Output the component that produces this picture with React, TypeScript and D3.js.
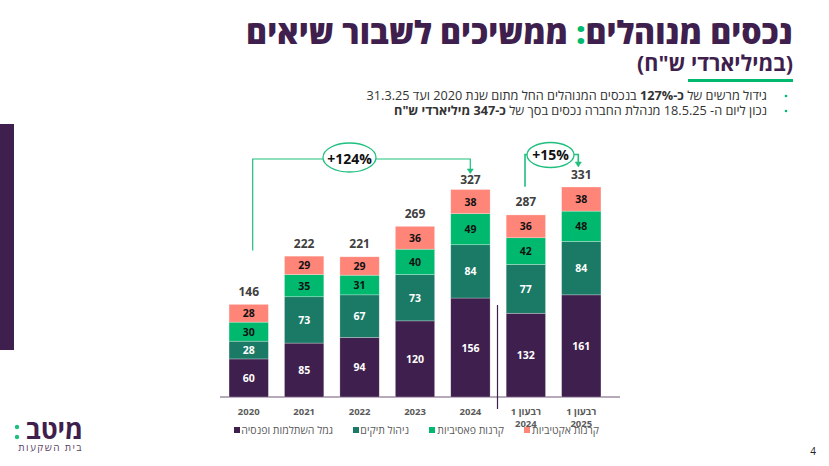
import React from "react";
import * as d3 from "d3";

const categories = ["2020", "2021", "2022", "2023", "2024", "Q1_2024", "Q1_2025"];
const categoryLines = [["2020"], ["2021"], ["2022"], ["2023"], ["2024"], ["רבעון 1", "2024"], ["רבעון 1", "2025"]];
const provident = [60, 85, 94, 120, 156, 132, 161];
const portfolio = [28, 73, 67, 73, 84, 77, 84];
const passive = [30, 35, 31, 40, 49, 42, 48];
const active = [28, 29, 29, 36, 38, 36, 38];
const totals = [146, 222, 221, 269, 327, 287, 331];
const seriesNames = ["גמל השתלמות ופנסיה", "ניהול תיקים", "קרנות פאסיביות", "קרנות אקטיביות"];
const seriesColors = ["#3f1f4d", "#1a7a66", "#00b96f", "#ff8578"];
const labelColors = ["#ffffff", "#ffffff", "#111111", "#111111"];
const seriesValues = [provident, portfolio, passive, active];

const W = 829, H = 466;
const font = "'Open Sans','Noto Sans','DejaVu Sans',sans-serif";
const purple = "#3f1f4d";
const green = "#1fbf7f";

const x = d3.scaleBand<string>().domain(categories).range([221, 609]).paddingInner(0.29).paddingOuter(0.145);
const y = d3.scaleLinear().domain([0, 331]).range([397, 187]);

const rows = categories.map((c, i) => {
  const r: any = { c };
  seriesNames.forEach((s, k) => (r[s] = seriesValues[k][i]));
  return r;
});
const stacked = d3.stack<any>().keys(seriesNames)(rows);

const legendSwatch = [234, 353, 429, 524];
const legendTextRight = [333, 409, 504, 599];

export default function App() {
  const cx = (i: number) => x(categories[i])! + x.bandwidth() / 2;
  return (
    <svg width={W} height={H} style={{ position: "absolute", left: 0, top: 0, background: "#fff" }} fontFamily={font}>
      <rect x={0} y={124} width={14} height={226} fill={purple} />

      <text x={793} y={44} textAnchor="start" direction="rtl" fontSize={32} fontWeight={800} fill={purple}>
        נכסים מנוהלים<tspan fill="#00b96f">:</tspan> ממשיכים לשבור שיאים
      </text>
      <text x={793} y={71} textAnchor="start" direction="rtl" fontSize={21.5} fontWeight={700} fill={purple}>(במיליארדי ש"ח)</text>
      <rect x={688} y={79} width={105} height={3} fill="#00b96f" />

      <text x={767} y={100} textAnchor="start" direction="rtl" fontSize={12.7} fill="#333">
        <tspan>גידול מרשים של </tspan><tspan fontWeight={700}>כ-127%</tspan><tspan> בנכסים המנוהלים החל מתום שנת 2020 ועד 31.3.25</tspan>
      </text>
      <text x={767} y={115} textAnchor="start" direction="rtl" fontSize={12.7} fill="#333">
        <tspan>נכון ליום ה- 18.5.25 מנהלת החברה נכסים בסך של </tspan><tspan fontWeight={700}>כ-347 מיליארדי ש"ח</tspan>
      </text>
      <circle cx={786} cy={96} r={1.3} fill="#00b96f" />
      <circle cx={786} cy={111} r={1.3} fill="#00b96f" />

      {/* baseline */}
      <line x1={220} x2={620} y1={397} y2={397} stroke="#6d5577" strokeWidth={1} />
      <line x1={497.5} x2={497.5} y1={305} y2={409} stroke={purple} strokeWidth={1.2} />

      {/* stacks */}
      {stacked.map((layer, k) => (
        <g key={seriesNames[k]}>
          {layer.map((d, i) => (
            <g key={categories[i]}>
              <rect x={x(categories[i])} width={x.bandwidth()} y={y(d[1])} height={y(d[0]) - y(d[1])}
                fill={seriesColors[k]} stroke="#fff" strokeOpacity={0.45} strokeWidth={0.6} />
              <text x={cx(i)} y={(y(d[0]) + y(d[1])) / 2 + 4} textAnchor="middle" fontSize={10.5} fontWeight={700}
                fill={labelColors[k]}>{seriesValues[k][i]}</text>
            </g>
          ))}
        </g>
      ))}

      {/* totals */}
      {totals.map((t, i) => (
        <text key={i} x={cx(i)} y={y(t) - (i === 4 ? 5.5 : 8.5)} textAnchor="middle" fontSize={12} fontWeight={700} fill="#404040">{t}</text>
      ))}

      {/* category labels */}
      {categoryLines.map((lines, i) => (
        <text key={i} x={cx(i)} textAnchor="middle" fontSize={9.5} fontWeight={700} fill="#5a5a5a">
          {lines.map((l, j) => (
            <tspan key={j} x={cx(i)} y={414.5 + j * 12.5}>{l}</tspan>
          ))}
        </text>
      ))}

      {/* legend */}
      {seriesNames.map((s, k) => (
        <g key={s}>
          <rect x={legendSwatch[k]} y={427} width={6} height={6} fill={seriesColors[k]} />
          <text x={legendTextRight[k]} y={433.5} textAnchor="start" direction="rtl" fontSize={10.5} fill="#5a5a5a">{s}</text>
        </g>
      ))}

      {/* +124% connector */}
      <path d="M252.7 250.5 V159 H323 M376 159 H470.3 V170" fill="none" stroke={green} strokeWidth={1.2} />
      <path d="M467.3 169 L473.3 169 L470.3 173.5 Z" fill={green} stroke={green} strokeWidth={0.6} />
      <ellipse cx={349.5} cy={157.5} rx={26.5} ry={14.5} fill="#fff" stroke={green} strokeWidth={1.3} />
      <text x={349.5} y={163.5} textAnchor="middle" fontSize={14} fontWeight={700} fill="#111">+124%</text>

      {/* +15% connector */}
      <path d="M525 186.7 V154.5 H528 M574 154.5 H578.3 V163" fill="none" stroke={green} strokeWidth={1.6} />
      <path d="M575.3 162 L581.3 162 L578.3 167 Z" fill={green} stroke={green} strokeWidth={0.6} />
      <ellipse cx={550.5} cy={155} rx={23.5} ry={12.5} fill="#fff" stroke={green} strokeWidth={1.3} />
      <text x={550.5} y={159.5} textAnchor="middle" fontSize={14} fontWeight={700} fill="#111">+15%</text>

      {/* logo */}
      <text x={83} y={439} textAnchor="start" direction="rtl" fontSize={26} fontWeight={700} fill={purple}>מיטב</text>
      <circle cx={17} cy={427} r={2.2} fill="#1fbf7f" />
      <circle cx={17} cy={437} r={2.2} fill="#1fbf7f" />
      <text x={83} y={451} textAnchor="start" direction="rtl" fontSize={10} letterSpacing={1.4} fill="#5a3f66">בית השקעות</text>

      <text x={813} y={455} textAnchor="middle" fontSize={10} fill="#222">4</text>
    </svg>
  );
}
